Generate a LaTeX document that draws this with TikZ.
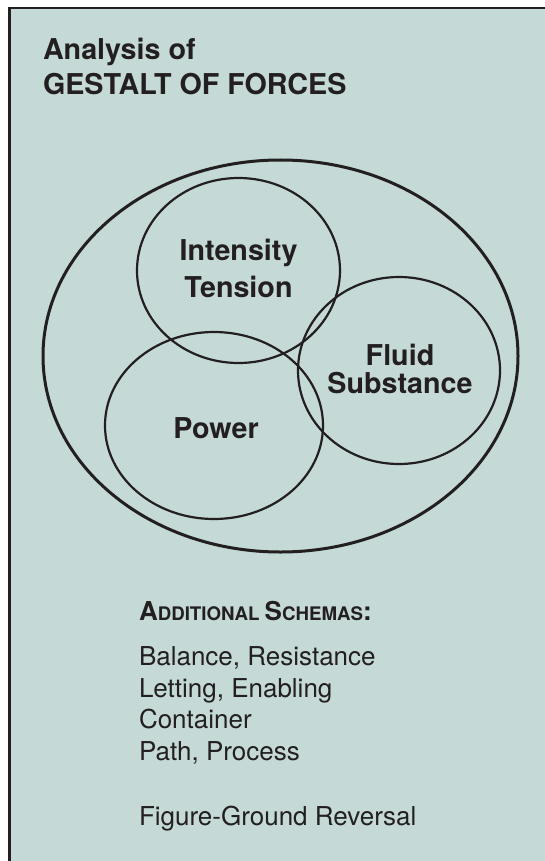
\documentclass[tikz,border=0pt]{standalone}
\usepackage{fontspec}
\setmainfont{TeX Gyre Heros}
\definecolor{bgc}{HTML}{C5DAD7}
\definecolor{ink}{HTML}{231F20}
\newcommand{\titlefont}{\fontsize{28.7}{34}\selectfont\bfseries}
\newcommand{\bodyfont}{\fontsize{26}{31}\selectfont}
\newcommand{\bigsc}{\fontsize{26}{31}\selectfont\bfseries}
\newcommand{\smsc}{\fontsize{18.7}{22}\selectfont\bfseries}
\tikzset{
  frameline/.style={draw=ink, line width=2.5pt},
  outerring/.style={draw=ink, line width=3pt},
  ring/.style={draw=ink, line width=2.2pt},
  txt/.style={inner sep=0pt, outer sep=0pt, text=ink},
  ttl/.style={txt, anchor=base west, font=\titlefont},
  lbl/.style={txt, anchor=base, font=\titlefont},
  body/.style={txt, anchor=base west, font=\bodyfont}
}
\begin{document}
\begin{tikzpicture}[x=1pt,y=-1pt]
\useasboundingbox (0,0) rectangle (545,861);
\fill[bgc] (9.5,8) rectangle (545,861);
\draw[frameline] (9.5,862) -- (9.5,8) -- (546,8);
% title
\node[ttl] (t1) at (43,60) {Analysis of};
\node[ttl] (t2) at (43,95) {GESTALT OF FORCES};
% ellipses
\draw[outerring] (280.5,356) ellipse [x radius=237.5pt, y radius=196pt];
\draw[ring] (238.5,270.5) ellipse [x radius=101.5pt, y radius=92.5pt];
\draw[ring] (214,425.5) ellipse [x radius=109pt, y radius=93.5pt];
\draw[ring] (399,370.5) ellipse [x radius=101pt, y radius=93.5pt];
% labels
\node[lbl] (int) at (238.5,260) {Intensity};
\node[lbl] (ten) at (238.5,297) {Tension};
\node[lbl] (flu) at (400,365) {Fluid};
\node[lbl] (sub) at (400,393) {Substance};
\node[lbl] (pow) at (216,438) {Power};
% additional schemas
\node[txt, anchor=base west] (add) at (139,620) {\bigsc A\smsc DDITIONAL \bigsc S\smsc CHEMAS\bigsc :};
\node[body] (l1) at (139,665) {Balance, Resistance};
\node[body] (l2) at (139,697) {Letting, Enabling};
\node[body] (l3) at (139,728) {Container};
\node[body] (l4) at (139,760) {Path, Process};
\node[body] (l5) at (139,825) {Figure-Ground Reversal};
\end{tikzpicture}
\end{document}
